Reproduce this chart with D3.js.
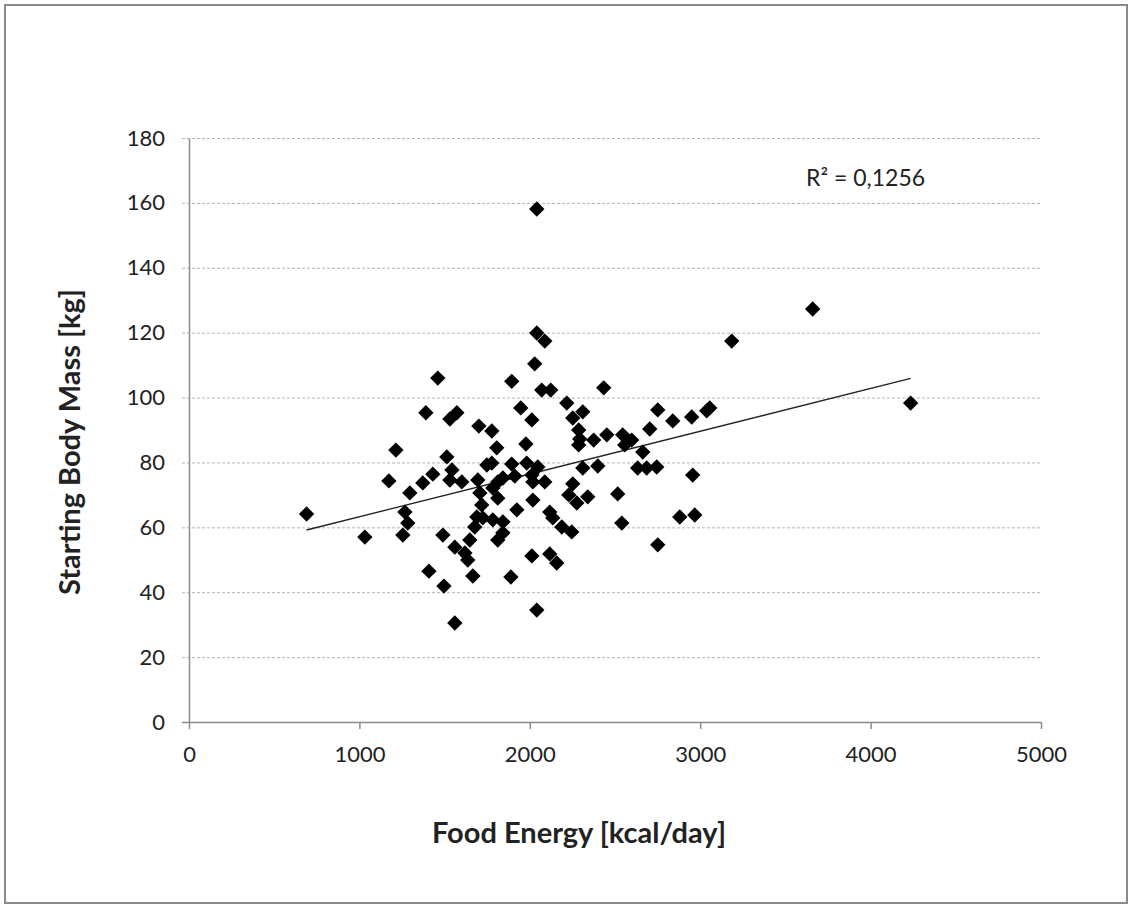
<!DOCTYPE html>
<html>
<head>
<meta charset="utf-8">
<script src="https://cdn.jsdelivr.net/npm/d3@7"></script>
<style>
  body { margin: 0; background: #fff; }
  text { font-family: Lato, "Open Sans", sans-serif; fill: #222; }
</style>
</head>
<body>
<div class="chart"></div>
<script>
// food energy [kcal/day] and starting body mass [kg]
var energy = [
  690, 1032, 1173, 1214, 1267, 1284, 1255, 1296, 1372, 1431,
  1390, 1460, 1408, 1490, 1496, 1560, 1513, 1543, 1531, 1601,
  1531, 1572, 1560, 1619, 1636, 1666, 1689, 1724, 1783, 1842,
  1677, 1842, 1812, 1707, 1812, 1718, 1783, 1695, 1812, 1842,
  1748, 1777, 1701, 1777, 1806, 1894, 1894, 1889, 1912, 1947,
  1977, 1982, 2012, 2018, 2012, 2029, 2041, 2088, 2041, 2070,
  2123, 2047, 2018, 1924, 2088, 2117, 2135, 2188, 2246, 2012,
  2117, 2158, 2041, 2217, 2252, 2311, 2287, 2287, 2293, 2375,
  2452, 2252, 2229, 2276, 2340, 2311, 2399, 2434, 2516, 2540,
  2545, 2557, 2598, 2704, 2663, 2751, 2839, 2950, 3038, 3056,
  2633, 2686, 2745, 2956, 2880, 2968, 2751, 3185, 3660, 4235,
  1648
];
var mass = [
  64.1, 57.0, 74.3, 83.8, 64.7, 61.3, 57.6, 70.6, 73.7, 76.4,
  95.3, 106.0, 46.5, 57.6, 41.9, 30.5, 81.7, 77.7, 74.6, 74.0,
  93.4, 95.3, 53.9, 52.1, 49.9, 45.0, 63.2, 62.9, 62.3, 61.7,
  60.1, 58.3, 56.1, 70.6, 69.0, 66.9, 72.1, 74.6, 74.0, 75.2,
  79.2, 79.8, 91.2, 89.7, 84.5, 79.5, 105.0, 44.7, 75.8, 96.8,
  85.7, 79.8, 76.1, 74.0, 93.1, 110.4, 119.9, 117.4, 158.1, 102.3,
  102.3, 78.6, 68.4, 65.4, 74.0, 64.7, 62.9, 60.1, 58.6, 51.2,
  51.8, 49.0, 34.5, 98.3, 93.7, 95.6, 90.0, 85.4, 87.2, 86.9,
  88.5, 73.4, 70.0, 67.5, 69.4, 78.3, 78.9, 103.0, 70.3, 61.3,
  88.5, 85.4, 86.9, 90.3, 83.2, 96.2, 92.8, 94.0, 95.9, 96.8,
  78.3, 78.3, 78.6, 76.1, 63.2, 63.8, 54.6, 117.4, 127.3, 98.3,
  56.1
];
var xTicks = [0, 1000, 2000, 3000, 4000, 5000];
var yTicks = [0, 20, 40, 60, 80, 100, 120, 140, 160, 180];
var rLabel = "R\u00b2 = 0,1256";

var width = 1130;
var height = 908;

var svg = d3
  .select(".chart")
  .append("svg")
  .attr("width", width)
  .attr("height", height);

// outer frame
svg
  .append("rect")
  .attr("x", 5)
  .attr("y", 5)
  .attr("width", 1122)
  .attr("height", 898)
  .attr("fill", "#fff")
  .attr("stroke", "#8a8a8a")
  .attr("stroke-width", 2);

var x = d3.scaleLinear().domain([0, 5000]).range([189, 1041]);
var y = d3.scaleLinear().domain([0, 180]).range([722, 138]);

// gridlines
svg
  .append("g")
  .selectAll("line")
  .data(yTicks.slice(1))
  .enter()
  .append("line")
  .attr("x1", 182)
  .attr("x2", x(5000))
  .attr("y1", function (d) { return y(d) + 0.5; })
  .attr("y2", function (d) { return y(d) + 0.5; })
  .attr("stroke", "#b4b4b4")
  .attr("stroke-width", 1)
  .attr("stroke-dasharray", "3,2");

// x axis
var xAxis = svg
  .append("g")
  .attr("transform", "translate(0," + y(0) + ")")
  .call(
    d3.axisBottom(x)
      .tickValues(xTicks)
      .tickFormat(d3.format("d"))
      .tickSize(7)
      .tickSizeOuter(0)
      .tickPadding(17)
  );

// y axis
var yAxis = svg
  .append("g")
  .attr("transform", "translate(" + x(0) + ",0)")
  .call(d3.axisLeft(y).tickValues(yTicks).tickSize(7).tickSizeOuter(0).tickPadding(17));

[xAxis, yAxis].forEach(function (a) {
  a.select(".domain").attr("stroke", "#8c8c8c").attr("stroke-width", 1.5);
  a.selectAll(".tick line").attr("stroke", "#8c8c8c").attr("stroke-width", 1.5);
  a.selectAll(".tick text")
    .attr("font-size", 22)
    .attr("font-family", "Lato, sans-serif")
    .attr("fill", "#222");
});
yAxis.selectAll(".tick line").filter(function (d) { return d > 0; }).remove();

// linear trend line from least squares
var n = energy.length;
var mx = d3.mean(energy);
var my = d3.mean(mass);
var sxy = 0, sxx = 0;
for (var i = 0; i < n; i++) {
  sxy += (energy[i] - mx) * (mass[i] - my);
  sxx += (energy[i] - mx) * (energy[i] - mx);
}
var slope = sxy / sxx;
var intercept = my - slope * mx;
var xr = d3.extent(energy);

svg
  .append("line")
  .attr("x1", x(xr[0]))
  .attr("y1", y(intercept + slope * xr[0]))
  .attr("x2", x(xr[1]))
  .attr("y2", y(intercept + slope * xr[1]))
  .attr("stroke", "#222")
  .attr("stroke-width", 1.3);

// diamonds
var diamond = d3.symbol().type(d3.symbolSquare).size(118);
svg
  .append("g")
  .selectAll("path")
  .data(energy)
  .enter()
  .append("path")
  .attr("d", diamond)
  .attr("transform", function (d, i) {
    return "translate(" + x(d) + "," + y(mass[i]) + ") rotate(45)";
  })
  .attr("fill", "#000");

// texts
svg
  .append("text")
  .attr("x", 806)
  .attr("y", 186)
  .attr("font-size", 23)
  .text(rLabel);

svg
  .append("text")
  .attr("x", 579)
  .attr("y", 843)
  .attr("text-anchor", "middle")
  .attr("font-size", 29)
  .attr("font-weight", "bold")
  .text("Food Energy [kcal/day]");

svg
  .append("text")
  .attr("transform", "translate(80,442) rotate(-90)")
  .attr("text-anchor", "middle")
  .attr("font-size", 29)
  .attr("font-weight", "bold")
  .text("Starting Body Mass [kg]");
</script>
</body>
</html>
